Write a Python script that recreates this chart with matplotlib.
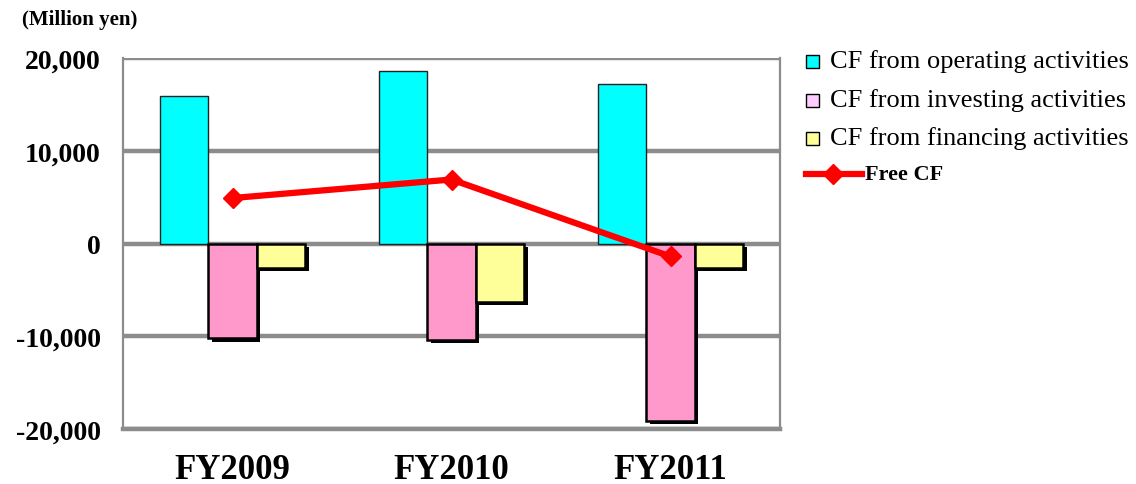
import numpy as np
import matplotlib
matplotlib.use("Agg")
import matplotlib.pyplot as plt
import matplotlib.patheffects as pe
from matplotlib.patches import Rectangle
from matplotlib.lines import Line2D

# values (million yen)
years = ["FY2009", "FY2010", "FY2011"]
cf_operating = [15900, 18600, 17200]
cf_investing = [-10200, -10400, -19100]
cf_financing = [-2600, -6300, -2600]
free_cf = [4900, 6900, -1400]
yticks = [-20000, -10000, 0, 10000, 20000]

plt.rcParams['font.family'] = ['Liberation Serif', 'DejaVu Serif']

fig = plt.figure(figsize=(11.36, 4.85), dpi=100)
ax = fig.add_axes([123 / 1136, 1 - 430 / 485, (780 - 123) / 1136, (430 - 59) / 485])

x = np.arange(len(years))
w = 0.222
grid_c = "#8c8c8c"

for yv in yticks:
    ax.axhline(yv, color=grid_c, lw=3.2, zorder=1)

shadow = [pe.SimplePatchShadow(offset=(2.5, -2.5), shadow_rgbFace="black", alpha=1), pe.Normal()]

ax.bar(x - w, cf_operating, w, color="#00FFFF", edgecolor="#222222", lw=1.0, zorder=3)
b2 = ax.bar(x, cf_investing, w, color="#FF99CC", edgecolor="black", lw=1.8, zorder=3)
b3 = ax.bar(x + w, cf_financing, w, color="#FFFF99", edgecolor="black", lw=1.8, zorder=3)
for b in list(b2) + list(b3):
    b.set_path_effects(shadow)

ax.plot(x, free_cf, color="#FF0000", lw=4.5, marker="D", ms=10, zorder=5)

ax.set_xlim(-0.5, 2.5)
ax.set_ylim(-20000, 20000)
ax.set_yticks(yticks)
ax.set_yticklabels([f"{v:,}" for v in yticks], fontsize=20, fontweight="bold")
ax.set_xticks(x)
ax.set_xticklabels(years, fontsize=25, fontweight="bold")
ax.tick_params(axis="y", length=0, pad=16)
ax.tick_params(axis="x", length=0, pad=17)

for s in ["left", "right"]:
    ax.spines[s].set_color(grid_c)
    ax.spines[s].set_linewidth(1.6)
ax.spines["top"].set_visible(False)
ax.spines["bottom"].set_color(grid_c)
ax.spines["bottom"].set_linewidth(3.2)

fig.text(22 / 1136, 1 - 20 / 485, "(Million yen)", fontsize=15, fontweight="bold", va="center")

# legend drawn by hand in figure pixels
def fx(px):
    return px / 1136

def fy(py):
    return 1 - py / 485

legend_rows = [("CF from operating activities", "#00FFFF", 62),
               ("CF from investing activities", "#FFCCFF", 101),
               ("CF from financing activities", "#FFFF99", 139)]
for label, col, py in legend_rows:
    fig.patches.append(Rectangle((fx(806), fy(py + 7)), 13 / 1136, 13 / 485,
                                 transform=fig.transFigure, facecolor=col,
                                 edgecolor="black", lw=1.0))
    fig.text(fx(830), fy(py), label, fontsize=19, va="center")

fig.lines.append(Line2D([fx(806), fx(862)], [fy(175), fy(175)], transform=fig.transFigure,
                        color="#FF0000", lw=4.5))
fig.lines.append(Line2D([fx(833)], [fy(175)], transform=fig.transFigure,
                        color="#FF0000", marker="D", ms=10))
fig.text(fx(865), fy(175), "Free CF", fontsize=16, fontweight="bold", va="center")

fig.savefig("out.png", dpi=100)
